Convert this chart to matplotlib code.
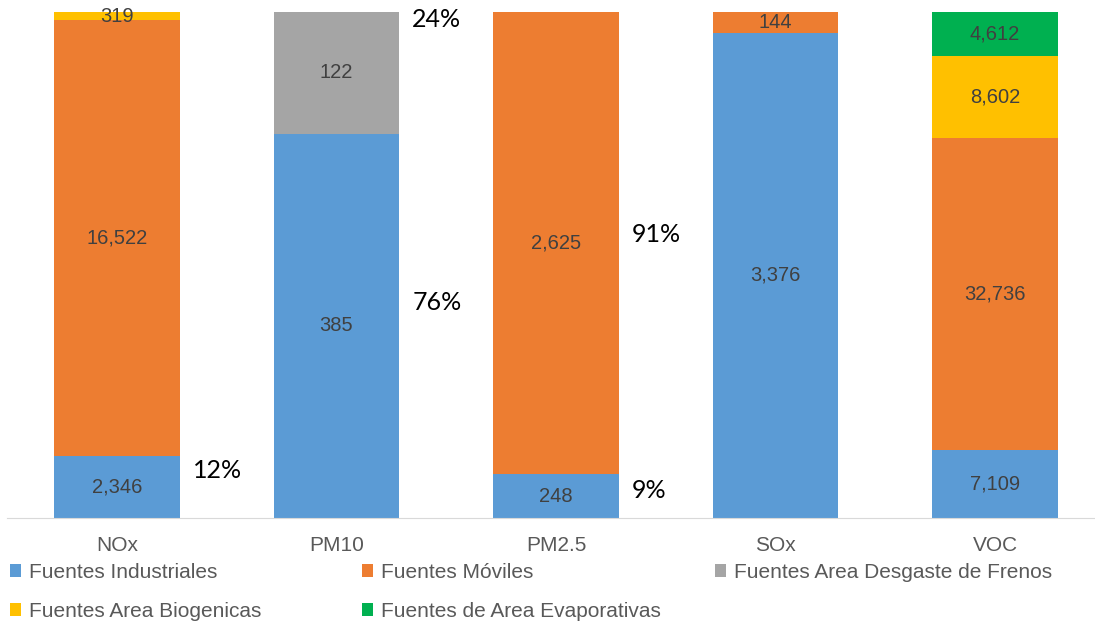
import numpy as np
import matplotlib.pyplot as plt

plt.rcParams['font.family'] = ['Liberation Sans', 'DejaVu Sans']

# data
contaminantes = ["NOx", "PM10", "PM2.5", "SOx", "VOC"]
industriales = [2346, 385, 248, 3376, 7109]
moviles = [16522, 0, 2625, 144, 32736]
desgaste_frenos = [0, 122, 0, 0, 0]
biogenicas = [319, 0, 0, 0, 8602]
evaporativas = [0, 0, 0, 0, 4612]

series = [
    ("Fuentes Industriales", industriales, "#5B9BD5"),
    ("Fuentes Móviles", moviles, "#ED7D31"),
    ("Fuentes Area Desgaste de Frenos", desgaste_frenos, "#A5A5A5"),
    ("Fuentes Area Biogenicas", biogenicas, "#FFC000"),
    ("Fuentes de Area Evaporativas", evaporativas, "#00B050"),
]

# percentage notes beside bars: (category index, y fraction, text)
pct_pos = [0, 1, 1, 2, 2]
pct_y = [0.093, 0.425, 0.985, 0.56, 0.055]
pct_txt = ["12%", "76%", "24%", "91%", "9%"]

fig = plt.figure(figsize=(10.95, 6.26), dpi=100)
ax = fig.add_axes([7.25 / 1095, 108 / 626, 1097.5 / 1095, 506 / 626])

x = np.arange(len(contaminantes))
totals = np.sum([np.array(s[1]) for s in series], axis=0)
bottom = np.zeros(len(x))
handles = []
for name, vals, col in series:
    vals = np.array(vals, dtype=float)
    frac = vals / totals
    b = ax.bar(x, frac, 0.57, bottom=bottom, color=col, label=name)
    handles.append(b)
    for i in range(len(x)):
        if vals[i] > 0:
            ax.text(x[i], bottom[i] + frac[i] / 2, f"{int(vals[i]):,}",
                    ha="center", va="center", fontsize=14.5, color="#404040")
    bottom += frac

for i, y, t in zip(pct_pos, pct_y, pct_txt):
    ax.text(x[i] + 0.345, y, t, ha="left", va="center", fontsize=18,
            color="black", family=["Lato", "DejaVu Sans"])

ax.set_xlim(-0.5, 4.5)
ax.set_ylim(0, 1)
ax.set_yticks([])
ax.set_xticks(x)
ax.set_xticklabels(contaminantes, fontsize=15, color="#595959")
ax.tick_params(axis="x", length=0, pad=13)
for s in ["top", "left", "right"]:
    ax.spines[s].set_visible(False)
ax.spines["bottom"].set_color("#D9D9D9")

# legend laid out row by row in three equal columns
cols = [[0, 3], [1, 4], [2]]
col_x = [10, 362, 715]
for idx, cx in zip(cols, col_x):
    fig.legend([handles[k] for k in idx], [series[k][0] for k in idx],
               loc="upper left", bbox_to_anchor=(cx / 1095, 1 - 563 / 626),
               frameon=False, fontsize=15, labelcolor="#595959",
               handlelength=0.55, handleheight=0.55, handletextpad=0.35,
               borderaxespad=0, borderpad=0, labelspacing=0.95)

fig.savefig("out.png", dpi=100)
